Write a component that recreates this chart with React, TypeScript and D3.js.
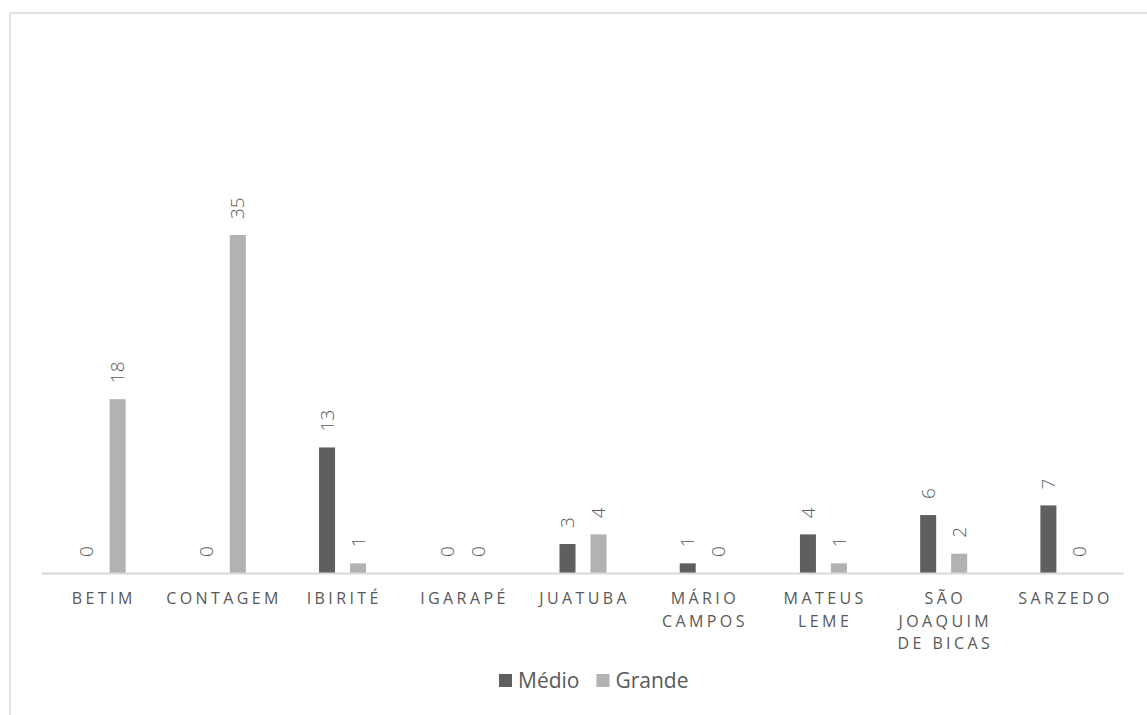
import React from "react";
import * as d3 from "d3";

const categories = [
  "Betim",
  "Contagem",
  "Ibirité",
  "Igarapé",
  "Juatuba",
  "Mário Campos",
  "Mateus Leme",
  "São Joaquim de Bicas",
  "Sarzedo",
];
const seriesNames = ["Médio", "Grande"];
const medioValues = [0, 0, 13, 0, 3, 1, 4, 6, 7];
const grandeValues = [18, 35, 1, 0, 4, 0, 1, 2, 0];
const seriesColors = ["#5f5f5f", "#b2b2b2"];

const W = 1147;
const H = 715;
const FONT = '"Open Sans", "Noto Sans", sans-serif';
const TEXT = "#595959";

const CAT_FS = 16;
const CAT_LS = 3.4;
const LEG_FS = 21;

function measure(text: string, fs: number, ls: number) {
  const c = document.createElement("canvas").getContext("2d");
  if (!c) return text.length * fs * 0.6;
  c.font = `${fs}px "Open Sans"`;
  return c.measureText(text).width + ls * text.length;
}

function wrap(label: string, maxW: number): string[] {
  const words = label.toUpperCase().split(" ");
  const lines: string[] = [];
  let cur = "";
  for (const w of words) {
    const t = cur ? cur + " " + w : w;
    if (cur && measure(t, CAT_FS, CAT_LS) > maxW) {
      lines.push(cur);
      cur = w;
    } else cur = t;
  }
  if (cur) lines.push(cur);
  return lines;
}

export default function App() {
  const baseY = 573;
  const x0 = d3.scaleBand<string>().domain(categories).range([42, 1124]).paddingInner(0).paddingOuter(0);
  const bw = x0.bandwidth();
  const x1 = d3
    .scaleBand<string>()
    .domain(seriesNames)
    .range([bw / 2 - 23.5, bw / 2 + 23.5])
    .paddingInner(15 / 31)
    .paddingOuter(0);
  const y = d3.scaleLinear().domain([0, 35]).range([baseY, 235]);
  const values = [medioValues, grandeValues];

  const legendItems = seriesNames.map((s, i) => ({ s, color: seriesColors[i] }));
  let lx = 499;
  const legendPos = legendItems.map((it) => {
    const p = lx;
    lx += 13 + 6 + measure(it.s, LEG_FS, 0) + 17;
    return p;
  });

  return (
    <svg
      width={W}
      height={H}
      style={{ position: "absolute", left: 0, top: 0, background: "#fff" }}
      fontFamily={FONT}
    >
      <rect x={10} y={13} width={1300} height={900} fill="#fff" stroke="#d9d9d9" strokeWidth={1.5} />
      {categories.map((c, ci) => (
        <g key={c} transform={`translate(${x0(c)},0)`}>
          {seriesNames.map((s, si) => {
            const v = values[si][ci];
            const bx = x1(s)!;
            const cx = bx + x1.bandwidth() / 2;
            return (
              <g key={s}>
                {v > 0 && (
                  <rect x={bx} y={y(v)} width={x1.bandwidth()} height={baseY - y(v)} fill={seriesColors[si]} />
                )}
                <text
                  transform={`translate(${cx},${y(v) - 16}) rotate(-90)`}
                  dy="0.35em"
                  fontSize={19}
                  fontWeight={300}
                  fill={TEXT}
                  textAnchor="start"
                >
                  {v}
                </text>
              </g>
            );
          })}
        </g>
      ))}
      <line x1={42} x2={1124} y1={baseY + 0.5} y2={baseY + 0.5} stroke="#d9d9d9" strokeWidth={2} />
      {categories.map((c) => {
        const lines = wrap(c, bw - 6);
        return (
          <text
            key={"l" + c}
            x={x0(c)! + bw / 2 + CAT_LS / 2}
            y={604}
            fontSize={CAT_FS}
            letterSpacing={CAT_LS}
            fill={TEXT}
            textAnchor="middle"
          >
            {lines.map((l, i) => (
              <tspan key={i} x={x0(c)! + bw / 2 + CAT_LS / 2} y={604 + i * 22.7}>
                {l}
              </tspan>
            ))}
          </text>
        );
      })}
      {legendItems.map((it, i) => (
        <g key={it.s} transform={`translate(${legendPos[i]},0)`}>
          <rect x={0} y={674} width={13} height={13} fill={it.color} />
          <text x={19} y={688} fontSize={LEG_FS} fill={TEXT}>
            {it.s}
          </text>
        </g>
      ))}
    </svg>
  );
}
